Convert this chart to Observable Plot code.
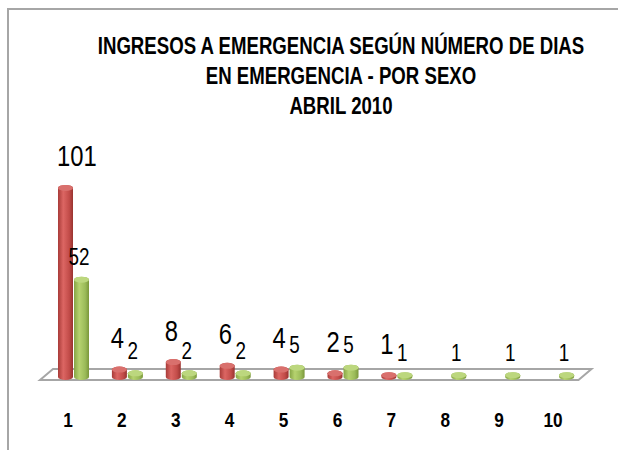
<!DOCTYPE html>
<html>
<head>
<meta charset="utf-8">
<script src="https://cdn.jsdelivr.net/npm/d3@7"></script>
<script src="https://cdn.jsdelivr.net/npm/@observablehq/plot@0.6"></script>
<style>
  body { margin: 0; background: #fff; }
  #wrap { position: relative; width: 618px; height: 450px; overflow: hidden; background: #fff;
          font-family: "Liberation Sans", Arial, sans-serif; }
  #border { position: absolute; left: 7px; top: 8px; width: 700px; height: 500px;
            border-left: 2px solid #a6a6a6; border-top: 2px solid #a6a6a6; }
  #title { position: absolute; left: -104px; top: 31px; width: 890px; text-align: center;
           font-weight: bold; font-size: 23px; line-height: 30px; color: #000; white-space: nowrap; }
  #title div { transform: scale(0.81, 1.05); transform-origin: 50% 50%; }
  #chart { position: absolute; left: 0; top: 130px; }
</style>
</head>
<body>
<div id="wrap">
  <div id="border"></div>
  <div id="title">
    <div>INGRESOS A EMERGENCIA SEGÚN NÚMERO DE DIAS</div>
    <div>EN EMERGENCIA - POR SEXO</div>
    <div>ABRIL 2010</div>
  </div>
  <div id="chart"></div>
</div>
<script>
const dias = ["1", "2", "3", "4", "5", "6", "7", "8", "9", "10"];
const serie1 = [101, 4, 8, 6, 4, 2, 1, 0, 0, 0];
const serie2 = [52, 2, 2, 2, 5, 5, 1, 1, 1, 1];

const d1 = dias.map((d, i) => ({dia: d, v: serie1[i]})).filter(d => d.v > 0);
const d2 = dias.map((d, i) => ({dia: d, v: serie2[i]})).filter(d => d.v > 0);

const floor = (index, scales, values, dimensions) => {
  const y0 = scales.y(0);
  const xl = dimensions.marginLeft - 0.5;
  const xr = dimensions.width - dimensions.marginRight - 1;
  const p = d3.create("svg:path")
    .attr("d", `M${xl},${y0 + 3}L${xl + 13},${y0 - 8}L${xr + 13},${y0 - 8}L${xr},${y0 + 3}Z`)
    .attr("fill", "#fff")
    .attr("stroke", "#a6a6a6")
    .attr("stroke-width", 2);
  return p.node();
};

const redBar = {x: "dia", insetLeft: 17.5, insetRight: 21.4, rx: 7.5, ry: 3};
const greenBar = {x: "dia", insetLeft: 33.5, insetRight: 5.4, rx: 7.5, ry: 3};

const chart = Plot.plot({
  width: 618,
  height: 320,
  marginLeft: 40.5,
  marginRight: 38.5,
  marginTop: 20,
  marginBottom: 73,
  x: {type: "band", domain: dias, padding: 0, round: false, tickSize: 0, tickPadding: 35, label: null},
  y: {domain: [0, 121.3], axis: null},
  style: {fontFamily: "'Liberation Sans', Arial, sans-serif", fontSize: "21px",
          fontWeight: "bold", color: "#000", background: "transparent", overflow: "visible"},
  marks: [
    floor,
    Plot.barY(d1, {...redBar, y: "v", fill: "url(#gRed)", insetTop: -3, insetBottom: -3}),
    Plot.barY(d1, {...redBar, y1: "v", y2: "v", fill: "#d9706d", insetTop: -3, insetBottom: -3}),
    Plot.barY(d2, {...greenBar, y: "v", fill: "url(#gGreen)", insetTop: -3, insetBottom: -3}),
    Plot.barY(d2, {...greenBar, y1: "v", y2: "v", fill: "#bcd77e", insetTop: -3, insetBottom: -3}),
    Plot.text(d1, {x: "dia", y: "v", text: "v", textAnchor: "start", dx: -11, dy: -22,
                   lineAnchor: "bottom", fontSize: 29, fontWeight: "normal", fill: "#000"}),
    Plot.text(d2, {x: "dia", y: "v", text: "v", dx: 11, dy: -15,
                   lineAnchor: "bottom", fontSize: 23, fontWeight: "normal", fill: "#000"})
  ]
});

const ns = "http://www.w3.org/2000/svg";
const defs = document.createElementNS(ns, "defs");
defs.innerHTML = `
  <linearGradient id="gRed" x1="0" x2="1" y1="0" y2="0">
    <stop offset="0" stop-color="#a83b38"/>
    <stop offset="0.35" stop-color="#dc6663"/>
    <stop offset="0.75" stop-color="#c24c49"/>
    <stop offset="1" stop-color="#983330"/>
  </linearGradient>
  <linearGradient id="gGreen" x1="0" x2="1" y1="0" y2="0">
    <stop offset="0" stop-color="#86a545"/>
    <stop offset="0.35" stop-color="#b6d26f"/>
    <stop offset="0.75" stop-color="#9bbb59"/>
    <stop offset="1" stop-color="#7a973a"/>
  </linearGradient>`;
chart.insertBefore(defs, chart.firstChild);
document.getElementById("chart").appendChild(chart);

// condense the text horizontally (the original uses a narrow font)
chart.querySelectorAll("text").forEach(t => {
  const w = t.getComputedTextLength();
  if (w > 0) {
    t.setAttribute("textLength", (w * 0.82).toFixed(2));
    t.setAttribute("lengthAdjust", "spacingAndGlyphs");
  }
});
</script>
</body>
</html>
